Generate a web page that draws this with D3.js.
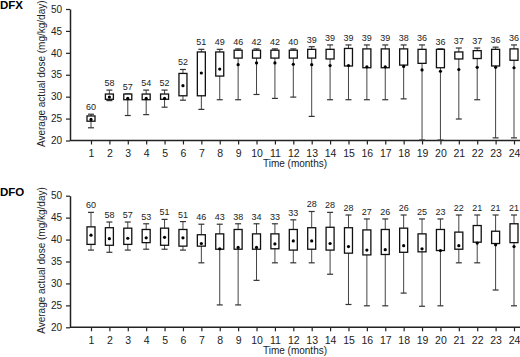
<!DOCTYPE html>
<html>
<head>
<meta charset="utf-8">
<script src="https://cdn.jsdelivr.net/npm/d3@7"></script>
<style>
  body { margin: 0; background: #fff; }
  svg { font-family: "Liberation Sans", Arial, sans-serif; }
</style>
</head>
<body>
<svg id="chart" width="520" height="357"></svg>
<script>
const months = d3.range(1, 25);
const yTicks = [20, 25, 30, 35, 40, 45, 50];

// DFX panel
const dfxN    = [60, 58, 57, 54, 52, 52, 51, 49, 46, 42, 42, 40, 39, 39, 39, 39, 39, 38, 36, 36, 37, 37, 36, 36];
const dfxHigh = [26.0, 31.5, 30.6, 31.5, 31.5, 36.2, 40.8, 40.8, 40.9, 40.9, 40.9, 40.9, 41.4, 41.8, 41.8, 41.8, 41.8, 41.8, 41.8, 40.9, 41.1, 41.1, 41.3, 41.8];
const dfxQ3   = [25.6, 30.6, 30.6, 30.6, 30.6, 35.3, 40.2, 40.2, 40.6, 40.6, 40.6, 40.6, 40.8, 40.8, 41.0, 40.9, 40.9, 40.9, 40.8, 40.8, 40.2, 40.5, 40.8, 40.9];
const dfxQ1   = [24.4, 29.4, 29.3, 29.3, 29.4, 30.2, 30.2, 34.7, 38.8, 38.8, 38.8, 38.8, 38.8, 38.6, 37.0, 36.6, 36.6, 37.2, 37.6, 36.6, 38.6, 38.7, 37.0, 38.3];
const dfxMean = [24.8, 29.9, 29.6, 29.6, 29.6, 32.5, 35.4, 36.3, 37.3, 37.7, 37.7, 37.4, 37.3, 37.1, 37.1, 36.8, 36.8, 36.9, 36.1, 35.8, 36.2, 36.7, 36.7, 36.6];
const dfxLow  = [22.9, 29.1, 25.7, 25.9, 27.6, 29.2, 27.1, 29.3, 29.3, 30.5, 29.6, 29.9, 25.5, 29.3, 29.3, 29.3, 29.3, 29.5, 20.1, 20.1, 24.9, 29.3, 20.6, 20.6];

// DFO panel
const dfoN    = [60, 58, 57, 53, 51, 51, 46, 43, 38, 34, 33, 33, 28, 28, 28, 27, 26, 26, 25, 23, 22, 21, 21, 21];
const dfoHigh = [46.2, 44.0, 44.0, 43.6, 44.6, 44.1, 43.5, 43.5, 43.6, 43.6, 43.6, 44.5, 46.4, 46.2, 45.6, 44.7, 44.7, 45.6, 44.7, 44.7, 45.6, 45.6, 45.6, 45.6];
const dfoQ3   = [42.9, 42.7, 42.6, 42.3, 42.6, 42.3, 41.1, 41.3, 42.3, 41.3, 41.3, 42.3, 42.7, 42.8, 42.7, 42.2, 42.3, 42.6, 41.3, 42.3, 41.7, 43.2, 41.9, 43.6];
const dfoQ1   = [38.9, 38.7, 38.9, 39.3, 38.7, 38.5, 38.5, 37.8, 37.8, 37.8, 37.9, 37.6, 37.8, 37.6, 36.9, 36.5, 36.6, 37.1, 37.2, 37.5, 37.8, 39.4, 39.1, 39.3];
const dfoMean = [41.0, 40.2, 40.3, 40.4, 40.5, 40.4, 39.1, 37.9, 38.2, 38.2, 39.0, 39.7, 39.7, 39.1, 38.4, 37.6, 37.7, 38.6, 37.9, 37.5, 38.6, 39.2, 38.8, 38.4];
const dfoLow  = [37.6, 37.1, 37.6, 37.8, 37.8, 37.6, 34.7, 25.1, 25.1, 30.7, 34.7, 34.7, 34.7, 32.1, 25.2, 24.9, 24.9, 27.8, 24.8, 24.9, 34.7, 34.7, 28.5, 24.9];

const svg = d3.select("#chart");

function drawPanel(title, top, bottom, n, low, q1, q3, mean, high) {
    const g = svg.append("g");

    const x = d3.scalePoint().domain(months).range([91, 514]);
    const y = d3.scaleLinear().domain([20, 50]).range([bottom, top]);

    g.append("text")
        .attr("x", 0)
        .attr("y", top)
        .attr("font-size", 11.5)
        .attr("font-weight", "bold")
        .text(title);

    // axes
    const yAxis = d3.axisLeft(y).tickValues(yTicks).tickSize(4).tickSizeOuter(0);
    const ya = g.append("g").attr("transform", "translate(70,0)").call(yAxis);
    ya.selectAll("text").attr("font-size", 10).attr("fill", "#222").attr("dx", "-1");

    const xAxis = d3.axisBottom(x).tickSize(4).tickSizeOuter(0).tickPadding(5);
    const xa = g.append("g").attr("transform", `translate(0,${bottom})`).call(xAxis);
    xa.select(".domain").attr("d", "M70,0H520");
    xa.selectAll("text").attr("font-size", 10.5).attr("fill", "#222");

    [ya, xa].forEach(a => {
        a.select(".domain").attr("stroke", "#222").attr("stroke-width", 1.5);
        a.selectAll(".tick line").attr("stroke", "#222").attr("stroke-width", 1.2);
    });

    g.append("text")
        .attr("x", 295)
        .attr("y", bottom + 26.5)
        .attr("text-anchor", "middle")
        .attr("font-size", 10)
        .attr("fill", "#222")
        .text("Time (months)");

    g.append("text")
        .attr("transform", `translate(45,${(top + bottom) / 2 - 1}) rotate(-90)`)
        .attr("text-anchor", "middle")
        .attr("font-size", 10)
        .attr("fill", "#222")
        .text("Average actual dose (mg/kg/day)");

    const boxW = 8, capW = 6;
    const items = g.selectAll(".box")
        .data(months.map((m, i) => ({ m, n: n[i], low: low[i], q1: q1[i], q3: q3[i], mean: mean[i], high: high[i] })))
        .join("g")
        .attr("class", "box")
        .attr("transform", d => `translate(${x(d.m)},0)`);

    // whisker
    items.append("line")
        .attr("y1", d => y(d.low)).attr("y2", d => y(d.high))
        .attr("stroke", "#444").attr("stroke-width", 1);
    items.append("line")
        .attr("x1", -capW / 2).attr("x2", capW / 2)
        .attr("y1", d => y(d.high)).attr("y2", d => y(d.high))
        .attr("stroke", "#333").attr("stroke-width", 1.2);
    items.append("line")
        .attr("x1", -capW / 2).attr("x2", capW / 2)
        .attr("y1", d => y(d.low)).attr("y2", d => y(d.low))
        .attr("stroke", "#333").attr("stroke-width", 1.2);

    items.append("rect")
        .attr("x", -boxW / 2)
        .attr("width", boxW)
        .attr("y", d => y(d.q3))
        .attr("height", d => y(d.q1) - y(d.q3))
        .attr("fill", "#fff")
        .attr("stroke", "#111")
        .attr("stroke-width", 1.3);

    items.append("circle")
        .attr("cy", d => y(d.mean))
        .attr("r", 1.6)
        .attr("fill", "#000");

    items.append("text")
        .attr("y", d => y(d.high) - 4)
        .attr("text-anchor", "middle")
        .attr("font-size", 9)
        .attr("fill", "#222")
        .text(d => d.n);
}

drawPanel("DFX", 9, 140.5, dfxN, dfxLow, dfxQ1, dfxQ3, dfxMean, dfxHigh);
drawPanel("DFO", 195.7, 327.3, dfoN, dfoLow, dfoQ1, dfoQ3, dfoMean, dfoHigh);
</script>
</body>
</html>
